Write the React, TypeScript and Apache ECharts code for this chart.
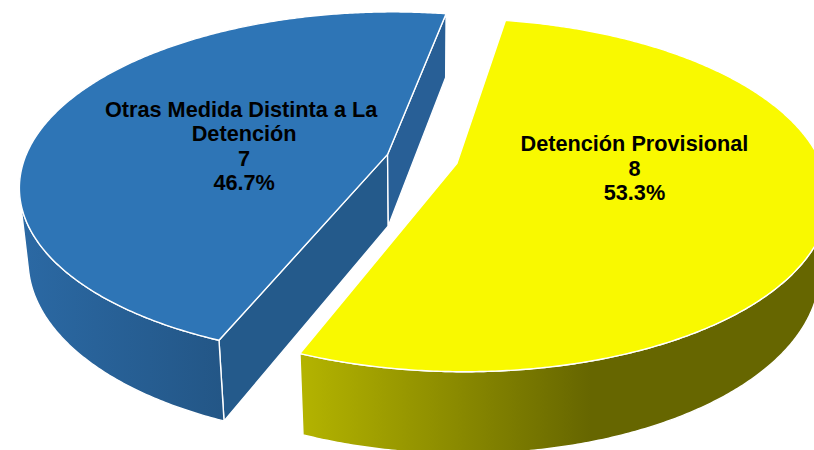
import React, { useEffect, useRef } from "react";
import * as echarts from "echarts";

// ---- data ----
const categories = ["Detención Provisional", "Otras Medida Distinta a La Detención"];
const values = [8, 7];
const topColors = ["#F9F900", "#2E75B6"];
const wallLight = ["#B4B400", "#2B69A4"];
const wallDark = ["#666600", "#235686"];
const wallDarkStop = [0.55, 1];
const cutStartColors = ["#8A8A00", "#245A8B"];
const cutEndColors = ["#8A8A00", "#285F96"];

// ---- 3D view settings ----
const VIEW = {
  cx: 422,
  cy: 159,
  R: 363,
  H: 83,
  tiltDeg: 27.8,
  dist: 1809,
  startDeg: 10,
  explode: 36,
  labelR: 0.46,
  labelZ: 0.14,
  labelDx: 15,
  labelDy: -2,
};

const DEG = Math.PI / 180;

function project(x: number, y: number, z: number): number[] {
  const a = VIEW.tiltDeg * DEG;
  const sa = Math.sin(a);
  const ca = Math.cos(a);
  const dc = y * sa + z * ca;
  const u = y * ca - z * sa;
  const s = VIEW.dist / (VIEW.dist - dc);
  return [VIEW.cx + x * s, VIEW.cy - u * s];
}

function signedArea(pts: number[][]): number {
  let s = 0;
  for (let i = 0; i < pts.length; i++) {
    const p = pts[i];
    const q = pts[(i + 1) % pts.length];
    s += p[0] * q[1] - q[0] * p[1];
  }
  return s / 2;
}

function grad(c0: string, c1: string, stop: number) {
  return new echarts.graphic.LinearGradient(0, 0, 1, 0, [
    { offset: 0, color: c0 },
    { offset: stop, color: c1 },
    { offset: 1, color: c1 },
  ]);
}

const total = values.reduce((a, b) => a + b, 0);

function sliceAngles(i: number) {
  let before = 0;
  for (let k = 0; k < i; k++) before += values[k];
  const a0 = VIEW.startDeg + (before / total) * 360;
  const a1 = a0 + (values[i] / total) * 360;
  return [a0, a1, (a0 + a1) / 2];
}

const renderItem = (params: any, api: any) => {
  const i = params.dataIndex;
  const val = api.value(0);
  const [a0, a1, am] = sliceAngles(i);
  const { R, H } = VIEW;
  const ox = VIEW.explode * Math.sin(am * DEG);
  const oz = -VIEW.explode * Math.cos(am * DEG);
  const P = (psi: number, r: number, y: number) =>
    project(ox + r * Math.sin(psi * DEG), y, oz - r * Math.cos(psi * DEG));

  // depth rank of slice (nearer drawn later)
  const near = values.map((_, k) => -Math.cos(sliceAngles(k)[2] * DEG));
  const rank = near.filter((v) => v < near[i]).length;
  const base = rank * 10;

  const apexTop = project(ox, 0, oz);
  const apexBot = project(ox, -H, oz);
  const n = Math.max(2, Math.ceil((a1 - a0) / 0.5));
  const angs: number[] = [];
  for (let k = 0; k <= n; k++) angs.push(a0 + ((a1 - a0) * k) / n);
  const tops = angs.map((a) => P(a, R, 0));
  const bots = angs.map((a) => P(a, R, -H));

  const stroke = { stroke: "#FFFFFF", lineWidth: 1.4, lineJoin: "round" };
  const children: any[] = [];

  // cut faces
  const startQuad = [apexTop, tops[0], bots[0], apexBot];
  if (signedArea(startQuad) < 0) {
    children.push({
      type: "polygon",
      z2: base + 1,
      shape: { points: startQuad },
      style: { fill: cutStartColors[i], ...stroke },
    });
  }
  const endQuad = [apexTop, tops[n], bots[n], apexBot];
  if (signedArea(endQuad) > 0) {
    children.push({
      type: "polygon",
      z2: base + 1,
      shape: { points: endQuad },
      style: { fill: cutEndColors[i], ...stroke },
    });
  }

  // outer wall: runs of front-facing segments
  let runStart = -1;
  const flush = (s: number, e: number) => {
    const pts: number[][] = [];
    for (let k = s; k <= e; k++) pts.push(tops[k]);
    for (let k = e; k >= s; k--) pts.push(bots[k]);
    children.push({
      type: "polygon",
      z2: base + 2,
      shape: { points: pts },
      style: { fill: grad(wallLight[i], wallDark[i], wallDarkStop[i]), ...stroke },
    });
  };
  for (let k = 0; k < n; k++) {
    const quad = [tops[k], tops[k + 1], bots[k + 1], bots[k]];
    const vis = signedArea(quad) < 0;
    if (vis && runStart < 0) runStart = k;
    if (!vis && runStart >= 0) {
      flush(runStart, k);
      runStart = -1;
    }
  }
  if (runStart >= 0) flush(runStart, n);

  // top face
  children.push({
    type: "polygon",
    z2: base + 3,
    shape: { points: [apexTop, ...tops] },
    style: { fill: topColors[i], ...stroke },
  });

  // label
  const lp = project(
    ox + VIEW.labelR * R * Math.sin(am * DEG),
    0,
    oz - VIEW.labelZ * R * Math.cos(am * DEG)
  );
  const pct = ((val / total) * 100).toFixed(1);
  children.push({
    type: "text",
    z2: 100,
    style: {
      x: lp[0] + VIEW.labelDx,
      y: lp[1] + VIEW.labelDy,
      text: `${categories[i]}\n${val}\n${pct}%`,
      font: 'bold 21.7px "Liberation Sans", Arial, sans-serif',
      fill: "#000000",
      align: "center",
      verticalAlign: "middle",
      lineHeight: 24.5,
      width: 300,
      overflow: "break",
    },
  });

  return { type: "group", children };
};

export default function App() {
  const ref = useRef<HTMLDivElement>(null);
  useEffect(() => {
    document.body.style.margin = "0";
    if (!ref.current) return;
    const chart = echarts.init(ref.current, null, { renderer: "svg" });
    chart.setOption({
      animation: false,
      backgroundColor: "#FFFFFF",
      series: [
        {
          type: "custom",
          coordinateSystem: "none",
          renderItem,
          data: values.map((v, k) => ({ name: categories[k], value: v })),
        },
      ],
    });
    return () => chart.dispose();
  }, []);
  return <div ref={ref} style={{ width: 814, height: 450 }} />;
}
